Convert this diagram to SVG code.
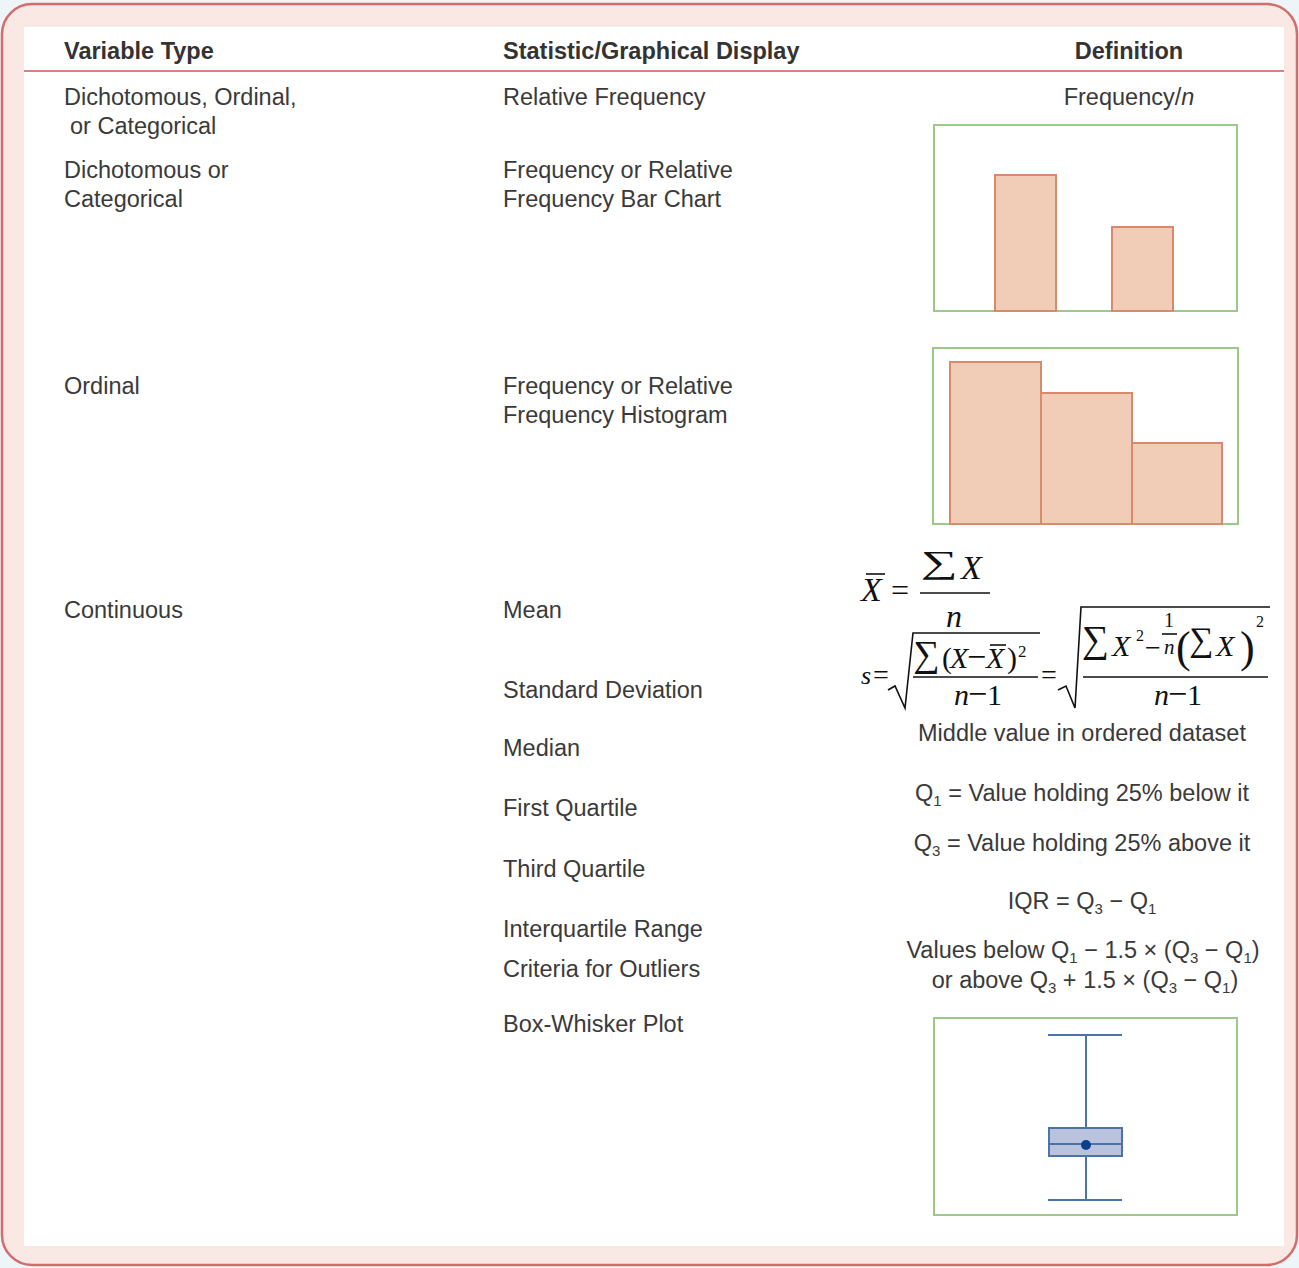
<svg xmlns="http://www.w3.org/2000/svg" width="1299" height="1268" viewBox="0 0 1299 1268">
<style>
  .t { font-family: "Liberation Sans", Arial, sans-serif; font-size: 23.5px; fill: #3a3a3a; }
  .h { font-family: "Liberation Sans", Arial, sans-serif; font-size: 23.5px; font-weight: bold; fill: #333; }
  .c { text-anchor: middle; }
  .m { font-family: "Liberation Serif", "Times New Roman", serif; fill: #111; }
  .mi { font-family: "Liberation Serif", "Times New Roman", serif; font-style: italic; fill: #111; }
  .frame { fill: #fff; stroke: #9dc88a; stroke-width: 2; }
  .bar { fill: #f1cdb7; stroke: #d98a6c; stroke-width: 2; }
  .ml { stroke: #111; stroke-width: 1.6; fill: none; }
  .bw { stroke: #4a74aa; stroke-width: 2; fill: none; }
</style>
<rect x="0" y="0" width="1299" height="1268" fill="#eef5f8"/>
<rect x="2" y="4" width="1295" height="1261" rx="30" ry="30" fill="#f9e8e4" stroke="#d46c6c" stroke-width="2.5"/>
<rect x="24" y="27" width="1260" height="1219" fill="#ffffff"/>

<g id="header">
  <text class="h" x="64" y="59">Variable Type</text>
  <text class="h" x="503" y="59">Statistic/Graphical Display</text>
  <text class="h c" x="1129" y="59">Definition</text>
  <line x1="24" y1="71" x2="1284" y2="71" stroke="#d98080" stroke-width="2"/>
</g>

<g id="row-relative-frequency">
  <text class="t" x="64" y="105">Dichotomous, Ordinal,</text>
  <text class="t" x="70" y="134">or Categorical</text>
  <text class="t" x="503" y="105">Relative Frequency</text>
  <text class="t c" x="1129" y="105">Frequency/<tspan font-style="italic">n</tspan></text>
</g>

<g id="row-bar-chart">
  <text class="t" x="64" y="178">Dichotomous or</text>
  <text class="t" x="64" y="207">Categorical</text>
  <text class="t" x="503" y="178">Frequency or Relative</text>
  <text class="t" x="503" y="207">Frequency Bar Chart</text>
  <rect class="frame" x="934" y="125" width="303" height="186"/>
  <rect class="bar" x="995" y="175" width="61" height="136"/>
  <rect class="bar" x="1112" y="227" width="61" height="84"/>
</g>

<g id="row-histogram">
  <text class="t" x="64" y="394">Ordinal</text>
  <text class="t" x="503" y="394">Frequency or Relative</text>
  <text class="t" x="503" y="423">Frequency Histogram</text>
  <rect class="frame" x="933" y="348" width="305" height="176"/>
  <rect class="bar" x="950" y="362" width="91" height="162"/>
  <rect class="bar" x="1041" y="393" width="91" height="131"/>
  <rect class="bar" x="1132" y="443" width="90" height="81"/>
</g>

<g id="row-mean">
  <text class="t" x="64" y="618">Continuous</text>
  <text class="t" x="503" y="618">Mean</text>
  <text class="mi" x="861" y="601" font-size="34">X</text>
  <line class="ml" x1="866" y1="574" x2="885" y2="574"/>
  <text class="m" x="891" y="601" font-size="32">=</text>
  <text class="m" font-size="40" transform="translate(921,573) scale(1.3,0.8)">∑</text>
  <text class="mi" x="961" y="579" font-size="34">X</text>
  <line class="ml" x1="920" y1="593" x2="990" y2="593"/>
  <text class="mi" x="946" y="627" font-size="32">n</text>
</g>

<g id="row-sd">
  <text class="t" x="503" y="698">Standard Deviation</text>
  <text class="mi" x="861" y="684" font-size="26">s</text>
  <text class="m" x="873" y="684" font-size="28">=</text>
  <path class="ml" d="M888 690 L895 686 L905 708 L913 633 L1040 633"/>
  <text class="m" x="913" y="666" font-size="37">∑</text>
  <text class="m" x="942" y="668" font-size="30">(</text>
  <text class="mi" x="950" y="668" font-size="30">X</text>
  <text class="m" x="967" y="668" font-size="34">−</text>
  <text class="mi" x="986" y="668" font-size="30">X</text>
  <line class="ml" x1="990" y1="645" x2="1006" y2="645"/>
  <text class="m" x="1007" y="668" font-size="30">)</text>
  <text class="m" x="1018" y="657" font-size="17">2</text>
  <line class="ml" x1="913" y1="677" x2="1038" y2="677"/>
  <text class="mi" x="954" y="705" font-size="30">n</text>
  <text class="m" x="968" y="705" font-size="34">−</text>
  <text class="m" x="987" y="705" font-size="30">1</text>
  <text class="m" x="1041" y="684" font-size="28">=</text>
  <path class="ml" d="M1058 690 L1066 686 L1075 708 L1081 607 L1270 607"/>
  <text class="m" x="1082" y="652" font-size="38">∑</text>
  <text class="mi" x="1112" y="656" font-size="30">X</text>
  <text class="m" x="1136" y="641" font-size="16">2</text>
  <text class="m" x="1145" y="657" font-size="28">−</text>
  <text class="m" x="1164" y="627" font-size="20">1</text>
  <line class="ml" x1="1162" y1="634" x2="1177" y2="634" stroke-width="1.2"/>
  <text class="mi" x="1164" y="654" font-size="21">n</text>
  <text class="m" x="1176" y="662" font-size="44">(</text>
  <text class="m" x="1189" y="651" font-size="34">∑</text>
  <text class="mi" x="1216" y="656" font-size="30">X</text>
  <text class="m" x="1240" y="662" font-size="44">)</text>
  <text class="m" x="1256" y="627" font-size="16">2</text>
  <line class="ml" x1="1083" y1="677" x2="1268" y2="677"/>
  <text class="mi" x="1154" y="705" font-size="30">n</text>
  <text class="m" x="1168" y="705" font-size="34">−</text>
  <text class="m" x="1187" y="705" font-size="30">1</text>
</g>

<g id="row-median">
  <text class="t" x="503" y="756">Median</text>
  <text class="t c" x="1082" y="741">Middle value in ordered dataset</text>
</g>

<g id="row-q1">
  <text class="t" x="503" y="816">First Quartile</text>
  <text class="t c" x="1082" y="801">Q<tspan font-size="15" dy="5">1</tspan><tspan dy="-5"> = Value holding 25% below it</tspan></text>
</g>

<g id="row-q3">
  <text class="t" x="503" y="877">Third Quartile</text>
  <text class="t c" x="1082" y="851">Q<tspan font-size="15" dy="5">3</tspan><tspan dy="-5"> = Value holding 25% above it</tspan></text>
</g>

<g id="row-iqr">
  <text class="t" x="503" y="937">Interquartile Range</text>
  <text class="t c" x="1082" y="909">IQR = Q<tspan font-size="15" dy="5">3</tspan><tspan dy="-5"> − Q</tspan><tspan font-size="15" dy="5">1</tspan></text>
</g>

<g id="row-outliers">
  <text class="t" x="503" y="977">Criteria for Outliers</text>
  <text class="t c" x="1083" y="958">Values below Q<tspan font-size="15" dy="5">1</tspan><tspan dy="-5"> − 1.5 × (Q</tspan><tspan font-size="15" dy="5">3</tspan><tspan dy="-5"> − Q</tspan><tspan font-size="15" dy="5">1</tspan><tspan dy="-5">)</tspan></text>
  <text class="t c" x="1085" y="988">or above Q<tspan font-size="15" dy="5">3</tspan><tspan dy="-5"> + 1.5 × (Q</tspan><tspan font-size="15" dy="5">3</tspan><tspan dy="-5"> − Q</tspan><tspan font-size="15" dy="5">1</tspan><tspan dy="-5">)</tspan></text>
</g>

<g id="row-boxplot">
  <text class="t" x="503" y="1032">Box-Whisker Plot</text>
  <rect class="frame" x="934" y="1018" width="303" height="197"/>
  <line class="bw" x1="1048" y1="1035" x2="1122" y2="1035"/>
  <line class="bw" x1="1048" y1="1200" x2="1122" y2="1200"/>
  <line class="bw" x1="1086" y1="1035" x2="1086" y2="1128"/>
  <line class="bw" x1="1086" y1="1156" x2="1086" y2="1200"/>
  <rect x="1049" y="1128" width="73" height="28" fill="#b9c3dd" stroke="#4a74aa" stroke-width="2"/>
  <line class="bw" x1="1049" y1="1144" x2="1122" y2="1144"/>
  <circle cx="1086" cy="1145" r="5" fill="#0e3f8c"/>
</g>

<g id="connectors"></g>
</svg>
